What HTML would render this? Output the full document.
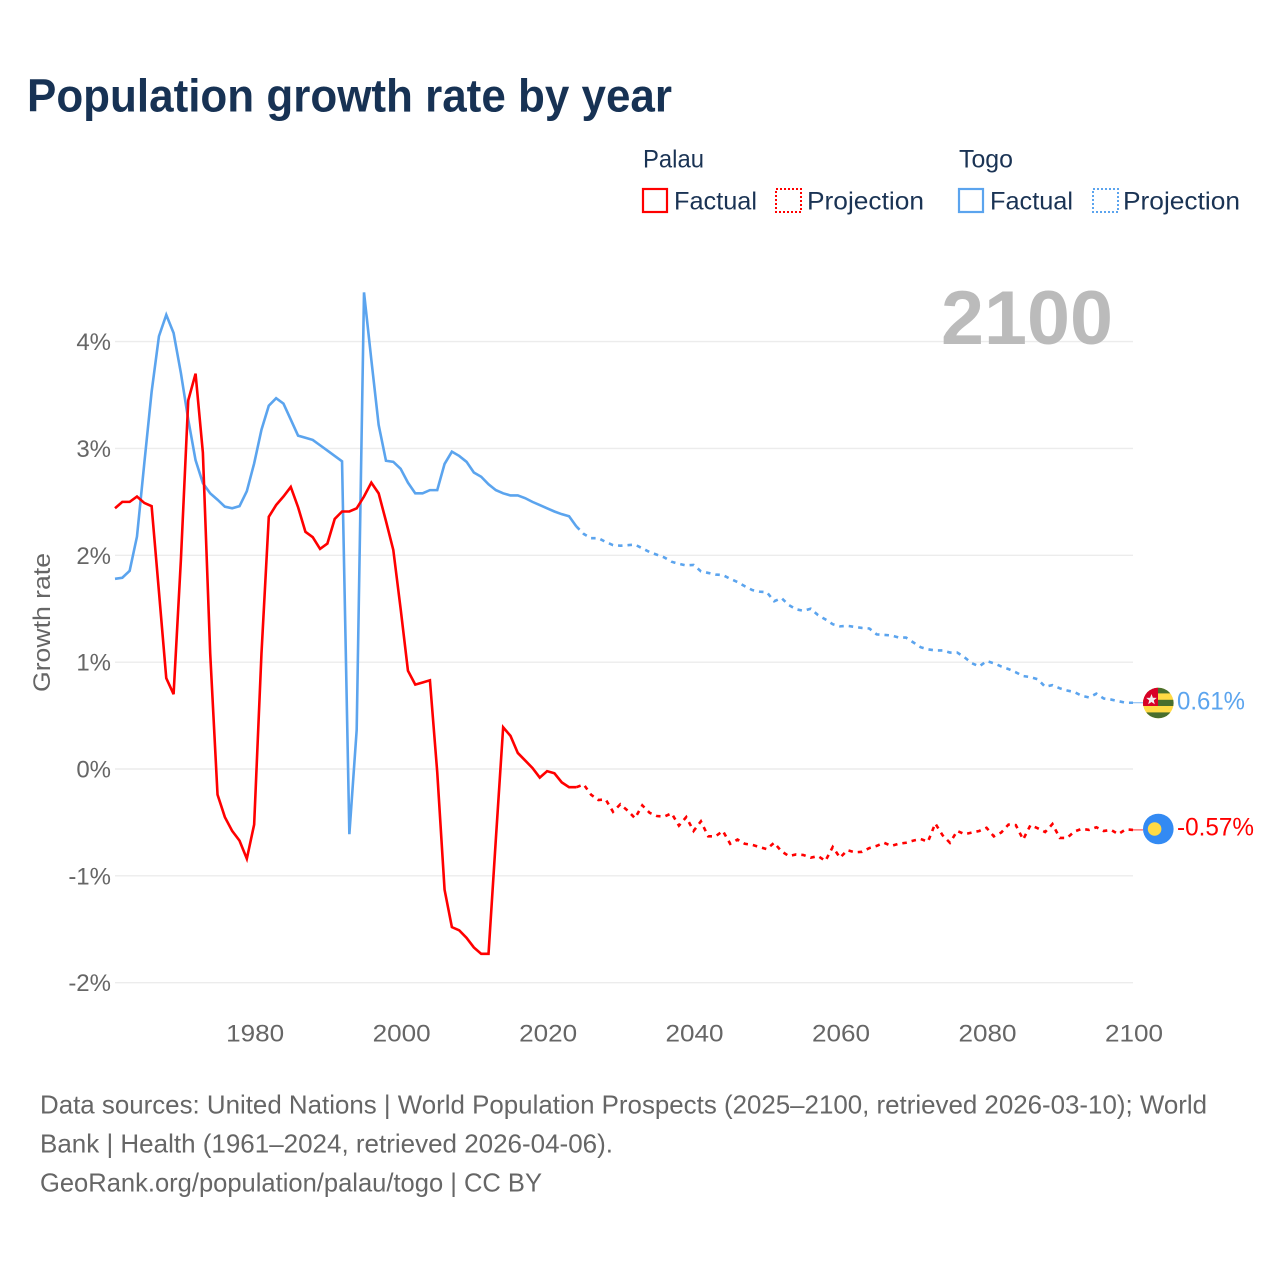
<!DOCTYPE html>
<html lang="en">
<head>
<meta charset="utf-8">
<title>Population growth rate by year</title>
<style>
  html, body { margin: 0; padding: 0; background: #fff; }
  svg { display: block; font-family: "Liberation Sans", sans-serif; }
  .legend-text { font-size: 25px; fill: #1a3354; }
  .axis-text { font-size: 24px; fill: #666; }
  .footer-text { font-size: 26px; fill: #666; }
</style>
</head>
<body>
<svg id="chart" xmlns="http://www.w3.org/2000/svg" width="1280" height="1280" viewBox="0 0 1280 1280">
  <rect x="0" y="0" width="1280" height="1280" fill="#fff"/>
  <text x="27" y="111.5" font-size="46" font-weight="700" fill="#173254" textLength="645" lengthAdjust="spacingAndGlyphs">Population growth rate by year</text>

  <g>
    <text class="legend-text" x="643" y="167.5" textLength="61" lengthAdjust="spacingAndGlyphs">Palau</text>
    <text class="legend-text" x="959" y="167.5" textLength="54" lengthAdjust="spacingAndGlyphs">Togo</text>
    <rect x="643" y="189" width="24" height="23" fill="none" stroke="#ff0000" stroke-width="2.2"/>
    <text class="legend-text" x="674" y="209.5" textLength="83" lengthAdjust="spacingAndGlyphs">Factual</text>
    <rect x="776" y="189" width="25" height="23" fill="none" stroke="#ff0000" stroke-width="2" stroke-dasharray="2 2"/>
    <text class="legend-text" x="807" y="209.5" textLength="117" lengthAdjust="spacingAndGlyphs">Projection</text>
    <rect x="959" y="189" width="24" height="23" fill="none" stroke="#5ba4ee" stroke-width="2.2"/>
    <text class="legend-text" x="990" y="209.5" textLength="83" lengthAdjust="spacingAndGlyphs">Factual</text>
    <rect x="1093" y="189" width="25" height="23" fill="none" stroke="#5ba4ee" stroke-width="2" stroke-dasharray="2 2"/>
    <text class="legend-text" x="1123" y="209.5" textLength="117" lengthAdjust="spacingAndGlyphs">Projection</text>
  </g>

  <g id="grid"></g>
  <g id="y-ticks"></g>
  <g id="x-ticks"></g>

  <text class="axis-text" transform="translate(50 622.5) rotate(-90)" text-anchor="middle" textLength="139" lengthAdjust="spacingAndGlyphs">Growth rate</text>

  <text x="1113" y="344" text-anchor="end" font-size="76" font-weight="700" fill="#bbbbbb" textLength="172" lengthAdjust="spacingAndGlyphs">2100</text>

  <g id="series"></g>

  <defs>
    <clipPath id="togo-clip"><circle cx="1158.3" cy="703" r="15.3"/></clipPath>
    <clipPath id="palau-clip"><circle cx="1158.3" cy="829" r="15.3"/></clipPath>
  </defs>

  <g clip-path="url(#togo-clip)">
    <rect x="1143" y="687" width="31" height="32" fill="#ffda44"/>
    <rect x="1143" y="687" width="31" height="6.4" fill="#496e2d"/>
    <rect x="1143" y="699.8" width="31" height="6.2" fill="#496e2d"/>
    <rect x="1143" y="712.4" width="31" height="6.6" fill="#496e2d"/>
    <rect x="1143" y="687" width="15" height="19" fill="#d80027"/>
    <polygon points="1151.5,694 1152.9,697.7 1156.8,697.9 1153.8,700.4 1154.8,704.2 1151.5,702 1148.2,704.2 1149.2,700.4 1146.2,697.9 1150.1,697.7" fill="#f0f0f0"/>
  </g>
  <g clip-path="url(#palau-clip)">
    <rect x="1143" y="813" width="31" height="32" fill="#338af3"/>
    <circle cx="1154.6" cy="829" r="6.8" fill="#ffda44"/>
  </g>

  <text x="1177" y="709.5" font-size="25" fill="#5ba4ee" textLength="68" lengthAdjust="spacingAndGlyphs">0.61%</text>
  <text x="1177" y="835.5" font-size="25" fill="#ff0000" textLength="77" lengthAdjust="spacingAndGlyphs">-0.57%</text>

  <g>
    <text class="footer-text" x="40" y="1113.5" textLength="1167" lengthAdjust="spacingAndGlyphs">Data sources: United Nations | World Population Prospects (2025–2100, retrieved 2026-03-10); World</text>
    <text class="footer-text" x="40" y="1152.5" textLength="573" lengthAdjust="spacingAndGlyphs">Bank | Health (1961–2024, retrieved 2026-04-06).</text>
    <text class="footer-text" x="40" y="1191.5" textLength="502" lengthAdjust="spacingAndGlyphs">GeoRank.org/population/palau/togo | CC BY</text>
  </g>
</svg>

<script>
// Chart data (growth rate, %). Factual series start in 1961; projections start in 2025.
var firstFactualYear = 1961;
var firstProjectionYear = 2025;
var yTickValues = [4, 3, 2, 1, 0, -1, -2];
var yTickLabels = ["4%", "3%", "2%", "1%", "0%", "-1%", "-2%"];
var xTickValues = [1980, 2000, 2020, 2040, 2060, 2080, 2100];
var xTickLabels = ["1980", "2000", "2020", "2040", "2060", "2080", "2100"];

var palauFactual = [
  2.44, 2.50, 2.50, 2.55, 2.49, 2.46, 1.66, 0.85, 0.70, 1.96,
  3.45, 3.70, 2.96, 1.08, -0.24, -0.45, -0.58, -0.67, -0.84, -0.52,
  1.08, 2.36, 2.47, 2.55, 2.64, 2.45, 2.22, 2.17, 2.06, 2.11,
  2.34, 2.41, 2.41, 2.44, 2.55, 2.68, 2.58, 2.32, 2.05, 1.50,
  0.92, 0.79, 0.81, 0.83, -0.03, -1.13, -1.48, -1.51, -1.58, -1.67,
  -1.73, -1.73, -0.66, 0.39, 0.31, 0.15, 0.08, 0.01, -0.08, -0.02,
  -0.04, -0.125, -0.17, -0.17
];
var palauProjection = [
  -0.145, -0.24, -0.29, -0.285, -0.40, -0.33, -0.39, -0.46, -0.34, -0.41,
  -0.44, -0.445, -0.415, -0.53, -0.45, -0.58, -0.49, -0.63, -0.63, -0.58,
  -0.70, -0.66, -0.70, -0.71, -0.73, -0.75, -0.69, -0.77, -0.815, -0.80,
  -0.805, -0.83, -0.815, -0.86, -0.73, -0.83, -0.76, -0.78, -0.775, -0.74,
  -0.72, -0.69, -0.72, -0.70, -0.69, -0.67, -0.655, -0.68, -0.51, -0.62,
  -0.69, -0.58, -0.61, -0.595, -0.58, -0.55, -0.63, -0.595, -0.52, -0.525,
  -0.66, -0.525, -0.555, -0.59, -0.515, -0.645, -0.645, -0.585, -0.56, -0.57,
  -0.545, -0.58, -0.57, -0.61, -0.565, -0.57
];
var togoFactual = [
  1.78, 1.79, 1.855, 2.175, 2.86, 3.53, 4.05, 4.25, 4.08, 3.705,
  3.27, 2.89, 2.675, 2.58, 2.52, 2.455, 2.44, 2.46, 2.60, 2.86,
  3.175, 3.40, 3.47, 3.42, 3.27, 3.12, 3.10, 3.08, 3.03, 2.98,
  2.93, 2.88, -0.61, 0.365, 4.46, 3.83, 3.22, 2.885, 2.875, 2.81,
  2.68, 2.58, 2.58, 2.61, 2.61, 2.855, 2.97, 2.93, 2.875, 2.775,
  2.735, 2.665, 2.61, 2.58, 2.56, 2.56, 2.535, 2.50, 2.47, 2.44,
  2.41, 2.385, 2.365, 2.27
];
var togoProjection = [
  2.20, 2.16, 2.16, 2.125, 2.095, 2.09, 2.095, 2.10, 2.065, 2.03,
  2.005, 1.98, 1.94, 1.92, 1.905, 1.91, 1.85, 1.835, 1.82, 1.815,
  1.78, 1.75, 1.71, 1.675, 1.66, 1.655, 1.57, 1.60, 1.535, 1.495,
  1.48, 1.50, 1.44, 1.40, 1.355, 1.335, 1.34, 1.33, 1.32, 1.315,
  1.26, 1.255, 1.25, 1.23, 1.23, 1.185, 1.14, 1.12, 1.11, 1.11,
  1.09, 1.09, 1.045, 0.99, 0.96, 1.01, 0.99, 0.96, 0.935, 0.905,
  0.87, 0.86, 0.84, 0.77, 0.785, 0.755, 0.735, 0.72, 0.685, 0.67,
  0.705, 0.66, 0.65, 0.635, 0.62, 0.62
];

var SVG_NS = "http://www.w3.org/2000/svg";
var plotLeft = 115;
var plotRight = 1133;
var xDomainStart = 1961;
var xDomainEnd = 2100;
var yZero = 769;
var yUnit = 106.85;

function xScale(year) {
  return plotLeft + (year - xDomainStart) * (plotRight - plotLeft) / (xDomainEnd - xDomainStart);
}
function yScale(value) {
  return yZero - value * yUnit;
}
function svgEl(tag, attrs) {
  var el = document.createElementNS(SVG_NS, tag);
  for (var k in attrs) { el.setAttribute(k, attrs[k]); }
  return el;
}
function linePath(startYear, values) {
  var d = "";
  for (var i = 0; i < values.length; i++) {
    d += (i ? "L" : "M") + xScale(startYear + i).toFixed(2) + " " + yScale(values[i]).toFixed(2);
  }
  return d;
}

var gridGroup = document.getElementById("grid");
var yTickGroup = document.getElementById("y-ticks");
var xTickGroup = document.getElementById("x-ticks");
var seriesGroup = document.getElementById("series");

yTickValues.forEach(function (v, i) {
  var gridLine = svgEl("line", { x1: plotLeft, x2: plotRight, y1: yScale(v), y2: yScale(v), stroke: "#ececec", "stroke-width": 1.4 });
  
  
  gridGroup.appendChild(gridLine);

  var label = svgEl("text", { x: 111, y: yScale(v) + 8.5, "text-anchor": "end", "class": "axis-text" });
  
  
  label.textContent = yTickLabels[i];
  yTickGroup.appendChild(label);
});

xTickValues.forEach(function (v, i) {
  var label = svgEl("text", { x: xScale(v) + 1, y: 1041.5, "text-anchor": "middle", "class": "axis-text", textLength: 58, lengthAdjust: "spacingAndGlyphs" });
  
  
  label.textContent = xTickLabels[i];
  xTickGroup.appendChild(label);
});

function drawSeries(name, color, factual, projection) {
  var solid = svgEl("path", { d: linePath(firstFactualYear, factual), fill: "none", stroke: color, "stroke-width": 2.6, "stroke-linejoin": "miter" });
  
  
  seriesGroup.appendChild(solid);

  var lastYear = firstFactualYear + factual.length - 1;
  var joined = [factual[factual.length - 1]].concat(projection);
  var dashed = svgEl("path", { d: linePath(lastYear, joined), fill: "none", stroke: color, "stroke-width": 2.6, "stroke-dasharray": "4.5 5" });
  
  
  seriesGroup.appendChild(dashed);

  var endY = yScale(projection[projection.length - 1]);
  var connector = svgEl("line", { x1: plotRight, x2: 1143, y1: endY, y2: endY, stroke: color, "stroke-width": 1, opacity: 0.8 });
  
  
  seriesGroup.appendChild(connector);
}

drawSeries("togo", "#5ba4ee", togoFactual, togoProjection);
drawSeries("palau", "#ff0000", palauFactual, palauProjection);
</script>
</body>
</html>
